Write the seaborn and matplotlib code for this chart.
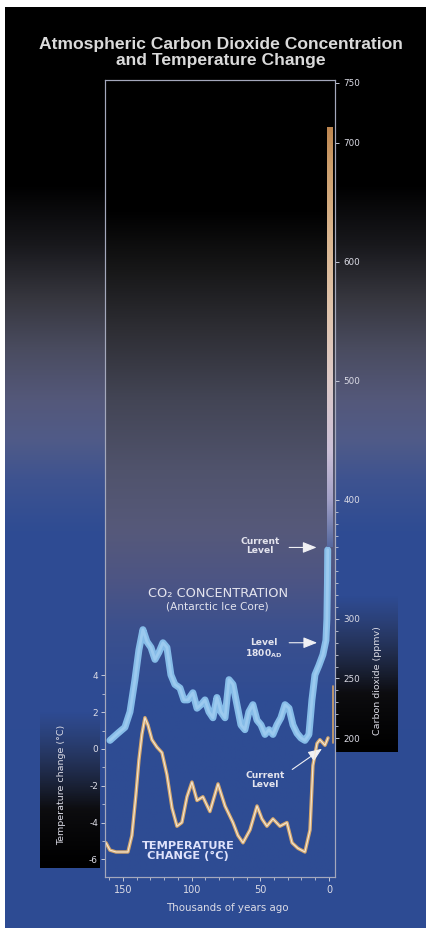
import numpy as np
import matplotlib
matplotlib.use("Agg")
import matplotlib.pyplot as plt
import seaborn as sns
from matplotlib.colors import to_rgb
from matplotlib.ticker import FixedLocator

# ---------------- data ----------------
co2_kyr = [159.5, 153.7, 148.6, 144.9, 141.3, 138.4, 135.5, 132.6, 129.6, 126.7,
           123.8, 120.9, 118.0, 115.1, 112.2, 108.5, 105.6, 102.7, 99.1, 96.1,
           93.2, 90.3, 87.4, 84.5, 81.6, 78.7, 75.7, 72.8, 69.9, 67.0,
           64.1, 61.2, 58.3, 55.4, 52.4, 49.5, 46.6, 43.7, 40.8, 37.9,
           35.0, 32.0, 29.1, 26.2, 23.3, 20.4, 17.5, 14.6, 12.4, 10.2,
           7.3, 4.4, 2.2, 1.5, 1.1, 0.9]
co2_ppm = [198, 204, 209, 222, 249, 274, 291, 281, 276, 266,
           272, 280, 276, 253, 245, 242, 232, 232, 238, 225,
           228, 232, 222, 217, 234, 222, 217, 249, 245, 228,
           211, 207, 222, 228, 215, 211, 203, 207, 203, 211,
           217, 228, 225, 211, 204, 200, 198, 203, 232, 253,
           261, 270, 282, 300, 330, 358]

temp_kyr = [162.4, 159.5, 155.1, 150.8, 146.4, 143.5, 140.6, 138.4, 136.2, 134.0,
            131.8, 128.9, 125.3, 121.6, 118.0, 114.3, 110.7, 107.1, 103.4, 99.8,
            96.1, 91.8, 86.7, 80.8, 75.7, 69.9, 66.3, 62.6, 57.5, 52.4,
            48.8, 45.2, 40.8, 35.7, 30.6, 26.9, 22.6, 17.5, 13.8, 11.7,
            8.7, 6.6, 2.9, 0.7]
temp_c = [-5.1, -5.5, -5.6, -5.6, -5.6, -4.7, -2.5, -0.6, 0.8, 1.7,
          1.3, 0.5, 0.1, -0.2, -1.4, -3.2, -4.2, -4.0, -2.6, -1.8,
          -2.8, -2.6, -3.4, -1.9, -3.1, -4.0, -4.7, -5.1, -4.4, -3.1,
          -3.8, -4.2, -3.8, -4.2, -4.0, -5.1, -5.4, -5.6, -4.4, -0.9,
          0.3, 0.5, 0.2, 0.6]

co2_current = 360
co2_1800 = 280
co2_projection = [360, 712]
temp_projection = [0.3, 3.4]

co2_ticks = [200, 250, 300, 400, 500, 600, 700, 750]
co2_tick_labels = ["200", "250", "300", "400", "500", "600", "700", "750"]
co2_minor = [v for v in range(200, 401, 10) if v not in co2_ticks]
temp_ticks = [-6, -4, -2, 0, 2, 4]
temp_tick_labels = ["-6", "-4", "-2", "0", "2", "4"]
temp_minor = [-5, -3, -1, 1, 3]
year_ticks = [150, 100, 50, 0]
year_tick_labels = ["150", "100", "50", "0"]
year_minor = list(range(0, 161, 10))

title = "Atmospheric Carbon Dioxide Concentration\nand Temperature Change"

# ---------------- style ----------------
sns.set_theme(style="white")
plt.rcParams['font.family'] = ['DejaVu Sans']
plt.rcParams['axes.unicode_minus'] = False

W, H = 426, 930
fig = plt.figure(figsize=(W / 100, H / 100), dpi=100, facecolor="white")

# background axes in pixel coordinates
bg = fig.add_axes([0, 0, 1, 1], zorder=0)
bg.set_xlim(0, W)
bg.set_ylim(H, 0)
bg.axis("off")


def vgrad(stops, y0, y1, n=500):
    ys = np.linspace(y0, y1, n)
    pos = [s[0] for s in stops]
    cols = np.array([to_rgb(s[1]) for s in stops])
    arr = np.stack([np.interp(ys, pos, cols[:, i]) for i in range(3)], axis=-1)
    return arr[:, None, :]


outer_stops = [(8, "#000000"), (185, "#000000"), (245, "#18181c"), (300, "#37373f"),
               (350, "#4a4c60"), (400, "#54587a"), (440, "#505b88"), (480, "#3e5390"),
               (530, "#2f4c93"), (930, "#2d4b94")]
inner_stops = [(80, "#000000"), (210, "#000000"), (270, "#171718"), (330, "#2e2e34"),
               (400, "#434555"), (470, "#50536c"), (530, "#56597a"), (580, "#4d5584"),
               (630, "#3b508e"), (700, "#2f4c93"), (877, "#2e4c94")]

bg.imshow(vgrad(outer_stops, 8, 928), extent=(5, W, 928, 8), aspect="auto",
          interpolation="bilinear", zorder=0)
bg.imshow(vgrad(inner_stops, 80, 877), extent=(105, 335, 877, 80), aspect="auto",
          interpolation="bilinear", zorder=1)


def label_box(x0, x1, y0, y1):
    n = 200
    t = np.linspace(0, 1, n)
    rgba = np.zeros((n, 1, 4))
    grey = np.array(to_rgb("#2a2a33"))
    for i, tt in enumerate(t):
        c = grey * (1 - tt) ** 1.2
        rgba[i, 0, :3] = c
        rgba[i, 0, 3] = min(1.0, tt * 1.6)
    bg.imshow(rgba, extent=(x0, x1, y1, y0), aspect="auto",
              interpolation="bilinear", zorder=2)


label_box(40, 100, 712, 868)
label_box(336, 398, 595, 752)
bg.set_xlim(0, W)
bg.set_ylim(H, 0)

# main axes
ax = fig.add_axes([105 / W, 1 - 877 / H, 230 / W, 797 / H], zorder=1)
ax.patch.set_alpha(0)
ax2 = ax.twinx()
ax2.set_zorder(2)
ax2.patch.set_alpha(0)

# temperature curve (tan with pale core)
sns.lineplot(x=temp_kyr, y=temp_c, ax=ax, sort=False, estimator=None,
             color="#d3a66c", lw=2.5, zorder=3)
sns.lineplot(x=temp_kyr, y=temp_c, ax=ax, sort=False, estimator=None,
             color="#f3e7d6", lw=0.8, zorder=4)
ax.plot([-2.6, -2.6], temp_projection, color="#d4a468", lw=1.2, zorder=3)

# CO2 curve (light blue band)
sns.lineplot(x=co2_kyr, y=co2_ppm, ax=ax2, sort=False, estimator=None,
             color="#86bce8", lw=5.0, zorder=3)
sns.lineplot(x=co2_kyr, y=co2_ppm, ax=ax2, sort=False, estimator=None,
             color="#a6d0f2", lw=2.0, alpha=0.7, zorder=4)

# projection bar
proj_stops = [(360, "#56689f"), (375, "#727eae"), (400, "#a4a2c8"), (440, "#cbc0d8"),
              (500, "#ddcac8"), (560, "#e0c4ac"), (620, "#dab690"), (680, "#cc9e6c"),
              (712, "#bd8650")]
pg = vgrad(proj_stops, co2_projection[0], co2_projection[1])[::-1]
ax2.imshow(pg, extent=(1.6, -2.4, co2_projection[0], co2_projection[1]),
           aspect="auto", interpolation="bilinear", zorder=3)

# limits
ax.set_xlim(163.1, -4.4)
ax.set_ylim(-6.96, 36.36)
ax2.set_ylim(83.3, 752.5)

# ticks
tick_col = "#c4c8d8"
lab_col = "#dcdce6"
ax.set_xticks(year_ticks)
ax.set_xticklabels(year_tick_labels)
ax.xaxis.set_minor_locator(FixedLocator(year_minor))
ax.set_yticks(temp_ticks)
ax.set_yticklabels(temp_tick_labels)
ax.yaxis.set_minor_locator(FixedLocator(temp_minor))
ax2.set_yticks(co2_ticks)
ax2.set_yticklabels(co2_tick_labels)
ax2.yaxis.set_minor_locator(FixedLocator(co2_minor))

ax.tick_params(axis="both", which="major", direction="out", length=3, width=0.7,
               color=tick_col, labelcolor=lab_col, labelsize=6.5, pad=2,
               bottom=True, left=True)
ax.tick_params(axis="both", which="minor", direction="out", length=2, width=0.6,
               color=tick_col, bottom=True, left=True)
ax.tick_params(axis="x", labelsize=7, pad=3)
ax2.tick_params(axis="y", which="major", direction="out", length=3, width=0.7,
                color=tick_col, labelcolor=lab_col, labelsize=6.3, pad=3, right=True)
ax2.tick_params(axis="y", which="minor", direction="out", length=2, width=0.6,
                color=tick_col, right=True)

for a in (ax, ax2):
    for s in a.spines.values():
        s.set_color("#a4a8bc")
        s.set_linewidth(0.8)
ax.set_xlabel("")
ax.set_ylabel("")
ax2.set_ylabel("")
ax.grid(False)
ax2.grid(False)

# text
txt = "#e4e4ee"
fig.text(221 / W, 1 - 52.5 / H, title, ha="center", va="center", color="#dadada",
         fontsize=12.6, fontweight="bold", family=["Liberation Sans", "DejaVu Sans"],
         linespacing=1.12)

ax.text((62 - 105) / 230, (877 - 785) / 797, "Temperature change (°C)", rotation=90,
        ha="center", va="center", color=lab_col, fontsize=6.8, transform=ax.transAxes)
ax.text((377 - 105) / 230, (877 - 681) / 797, "Carbon dioxide (ppmv)", rotation=90,
        ha="center", va="center", color=lab_col, fontsize=6.8, transform=ax.transAxes)
ax.text((227 - 105) / 230, (877 - 908) / 797, "Thousands of years ago",
        ha="center", va="center", color=lab_col, fontsize=7.4, transform=ax.transAxes)

ax2.text(80.8, 321.5, "CO₂ CONCENTRATION", ha="center", va="center", color=txt,
         fontsize=9.3)
ax2.text(81.0, 310.5, "(Antarctic Ice Core)", ha="center", va="center", color=txt,
         fontsize=7.6)

ax2.text(50.3, 361, "Current\nLevel", ha="center", va="center", color=txt,
         fontsize=6.6, fontweight="bold", linespacing=1.05)
ax2.annotate("", xy=(7.0, co2_current), xytext=(31.0, co2_current),
             arrowprops=dict(arrowstyle="-|>,head_length=0.7,head_width=0.28",
                             color="#f0f0f4", lw=0.8))
ax2.text(47.5, 274.8, "Level\n1800$_{\\mathregular{AD}}$", ha="center", va="center",
         color=txt, fontsize=6.6, fontweight="bold", linespacing=1.0)
ax2.annotate("", xy=(6.6, co2_1800), xytext=(31.0, co2_1800),
             arrowprops=dict(arrowstyle="-|>,head_length=0.7,head_width=0.28",
                             color="#f0f0f4", lw=0.8))

ax.text(46.6, -1.68, "Current\nLevel", ha="center", va="center", color=txt,
        fontsize=6.6, fontweight="bold", linespacing=1.05)
ax.annotate("", xy=(3.4, 0.1), xytext=(28.4, -1.2),
            arrowprops=dict(arrowstyle="-|>,head_length=0.7,head_width=0.28",
                            color="#f0f0f4", lw=0.8))

ax.text(102.7, -5.55, "TEMPERATURE\nCHANGE (°C)", ha="center", va="center",
        color="#dfe2fb", fontsize=8.2, fontweight="bold", linespacing=0.95)

fig.savefig("out.png", dpi=100, facecolor="white")
